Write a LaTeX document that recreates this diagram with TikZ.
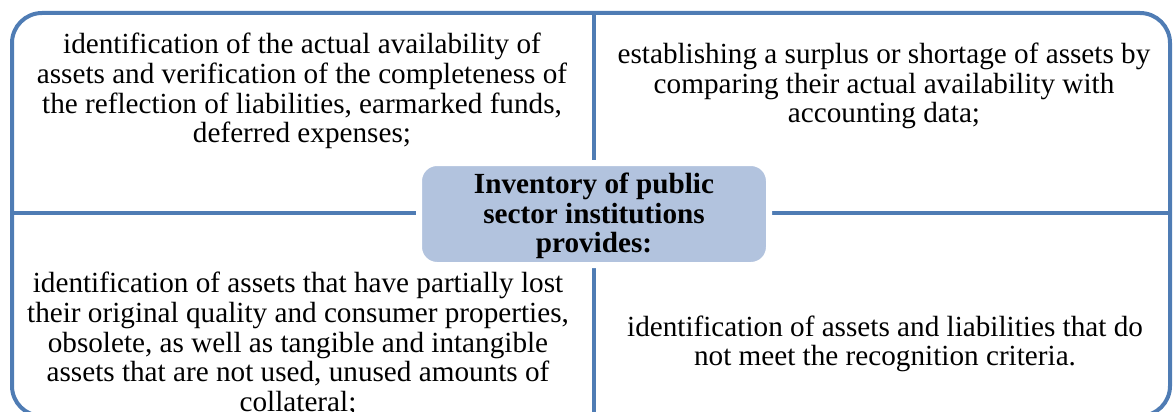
\documentclass[tikz,border=0pt]{standalone}
\usepackage{fontspec}
\setmainfont{Liberation Serif}
\definecolor{framecol}{RGB}{79,124,180}
\definecolor{boxfill}{RGB}{178,195,222}
\begin{document}
\begin{tikzpicture}[x=1pt,y=-1pt,
  frameline/.style={draw=framecol,line width=4pt},
  itemtext/.style={font=\fontsize{29.2}{29.7}\selectfont,align=center,inner sep=0pt},
  hubbox/.style={fill=boxfill,draw=white,line width=6pt,rounded corners=18pt,
     minimum width=350pt,minimum height=102pt,inner sep=0pt},
  hubtext/.style={font=\fontsize{29.2}{29.3}\selectfont\bfseries,align=center,inner sep=0pt}]
\useasboundingbox (0,0) rectangle (1173,412);
\begin{scope}
\clip (0,0) rectangle (1173,412);
\draw[frameline,rounded corners=30pt] (12,13) rectangle (1170,416);
\coordinate (T) at (594,13);
\coordinate (B) at (594,416);
\coordinate (L) at (12,213);
\coordinate (R) at (1170,213);
\draw[frameline] (T) -- (B);
\draw[frameline] (L) -- (R);
\end{scope}
\node[hubbox] (hub) at (594,214) {};
\node[hubtext] (hubt) at (594,216) {Inventory of public\\ sector institutions\\ provides:};
\node[itemtext] (tl) at (302,91) {identification of the actual availability of\\ assets and verification of the completeness of\\ the reflection of liabilities, earmarked funds,\\ deferred expenses;};
\node[itemtext] (tr) at (884,86) {establishing a surplus or shortage of assets by\\ comparing their actual availability with\\ accounting data;};
\node[itemtext] (bl) at (298,344) {identification of assets that have partially lost\\ their original quality and consumer properties,\\ obsolete, as well as tangible and intangible\\ assets that are not used, unused amounts of\\ collateral;};
\node[itemtext] (br) at (885,344) {identification of assets and liabilities that do\\ not meet the recognition criteria.};
\end{tikzpicture}
\end{document}
